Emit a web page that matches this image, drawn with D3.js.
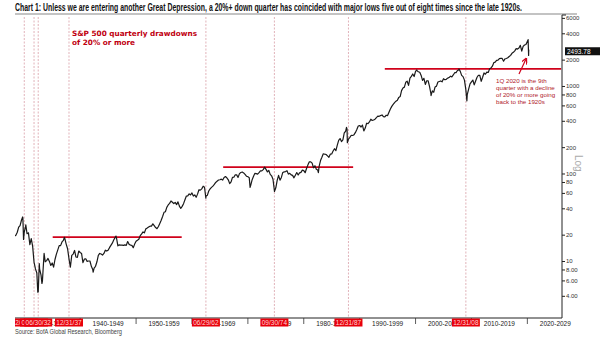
<!DOCTYPE html>
<html><head><meta charset="utf-8">
<script src="https://cdn.jsdelivr.net/npm/d3@7"></script>
<style>body{margin:0;background:#fff}svg{display:block}</style>
</head><body>
<svg id="c" width="605" height="341"></svg>
<script>
// ---------- DATA ----------
const startYear = 1928; // first quarter-end: Mar 1928
const quarterlyClose = [
  19.28,19.7,21.3,24.35, 25.4,29.2,31.3,21.45, 25.1,20.5,21.0,15.34, 18.0,14.8,9.7,8.12,
  7.3,4.43,8.1,6.89, 5.9,10.9,9.8,10.1, 10.7,9.9,8.9,9.5, 8.5,10.4,12.0,13.4,
  15.0,15.0,16.5,17.2, 18.1,15.6,13.8,10.6, 8.5,11.6,12.0,13.2, 11.1,11.0,13.0,12.5,
  12.2,9.6,10.5,10.6, 9.9,10.0,10.0,8.7, 8.0,8.3,8.7,9.8, 11.6,12.2,12.0,11.7,
  12.2,13.3,13.0,13.3, 14.2,15.1,16.0,17.4, 18.5,18.4,14.9,15.3, 15.2,15.2,15.1,15.3,
  15.1,16.7,15.5,15.2, 15.1,14.2,15.6,16.8, 17.3,17.7,19.5,20.4, 21.5,21.0,23.3,23.8,
  24.4,25.0,25.0,26.6, 25.3,24.1,23.4,24.8, 26.9,29.2,32.3,36.0, 36.6,41.0,43.7,45.5,
  48.5,47.0,45.4,46.7, 44.1,47.4,42.4,40.0, 42.1,45.2,50.1,55.2, 55.4,58.5,56.9,59.9,
  55.3,56.9,53.5,58.1, 65.1,64.6,66.7,71.6, 69.6,54.8,56.3,63.1, 66.6,69.4,71.7,75.0,
  79.0,81.7,84.2,84.8, 86.2,84.1,90.0,92.4, 89.2,84.7,76.6,80.3, 90.2,90.6,96.7,96.5,
  90.2,99.6,102.7,103.9, 101.5,97.7,93.1,92.1, 89.6,72.7,84.2,92.2, 100.3,99.7,98.3,102.1,
  107.2,107.1,110.6,118.1, 111.5,104.3,108.4,97.6, 94.0,86.0,63.5,68.6, 83.4,95.2,83.9,90.2,
  102.8,104.3,105.2,107.5, 98.4,100.5,96.5,95.1, 89.2,95.5,102.5,96.1, 101.6,102.9,109.3,107.9,
  102.1,114.2,125.5,135.8, 136.0,131.2,116.2,122.6, 112.0,109.6,120.4,140.6, 153.0,168.1,166.1,164.9,
  159.2,153.2,166.1,167.2, 180.7,191.9,182.1,211.3, 238.9,250.8,231.3,242.2, 291.7,304.0,321.8,247.1,
  258.9,273.5,271.9,277.7, 294.9,318.0,349.2,353.4, 339.9,358.0,306.1,330.2, 375.2,371.2,387.9,417.1,
  403.7,408.1,417.8,435.7, 451.7,450.5,458.9,466.4, 445.8,444.3,462.7,459.3, 500.7,544.8,584.4,615.9,
  645.5,670.6,687.3,740.7, 757.1,885.1,947.3,970.4, 1101.8,1133.8,1017.0,1229.2, 1286.4,1372.7,1282.7,1469.3,
  1498.6,1454.6,1436.5,1320.3, 1160.3,1224.4,1040.9,1148.1, 1147.4,989.8,815.3,879.8, 848.2,974.5,996.0,1111.9,
  1126.2,1140.8,1114.6,1211.9, 1180.6,1191.3,1228.8,1248.3, 1294.8,1270.2,1335.9,1418.3, 1420.9,1503.4,1526.8,1468.4,
  1322.7,1280.0,1166.4,903.3, 797.9,919.3,1057.1,1115.1, 1169.4,1030.7,1141.2,1257.6, 1325.8,1320.6,1131.4,1257.6,
  1408.5,1362.2,1440.7,1426.2, 1569.2,1606.3,1681.6,1848.4, 1872.3,1960.2,1972.3,2058.9, 2067.9,2063.1,1920.0,2043.9,
  2059.7,2098.9,2168.3,2238.8, 2362.7,2423.4,2519.4,2673.6, 2640.9,2718.4,2914.0,2506.9, 2834.4,2941.8,2976.7,3230.8,
  2584.6
];
// intra-quarter highs / lows
const extremeDates  = ["1929-09-16","1929-11-13","1930-04-10","1932-06-01","1932-09-07","1933-02-27","1933-07-18",
  "1937-03-06","1942-04-28","1946-05-29","1962-06-26","1970-05-26","1974-10-03","1982-08-12","1987-08-25",
  "1987-10-19","2000-03-24","2002-10-09","2007-10-09","2009-03-09","2020-02-19","2020-03-23","2020-04-01"];
const extremeValues = [31.86,17.66,25.92,4.40,9.31,5.53,12.2,18.68,7.47,19.25,52.3,69.3,62.3,102.4,336.8,
  224.8,1527.5,776.8,1565.2,676.5,3386.2,2237.4,2493.78];
const lastPrice = 2493.78;

const drawdownDates  = ["1929-12-31","1931-09-30","1932-06-30","1937-12-31","1962-06-29","1974-09-30","1987-12-31","2008-12-31"];
const drawdownLabels = ["12/31/29","09/30/31","06/30/32","12/31/37","06/29/62","09/30/74","12/31/87","12/31/08"];

const resistanceLevels = [18.7, 118, 1565];
const resistanceStart  = ["1935-02-01","1965-08-01","1994-07-01"];
const resistanceEnd    = ["1958-03-01","1988-11-01","2026-01-15"];

const decadeStarts = [1920,1930,1940,1950,1960,1970,1980,1990,2000,2010,2020];
const yTicks = [4,6,8,10,20,40,60,80,100,200,400,600,800,1000,2000,4000,6000];

const titleText = "Chart 1: Unless we are entering another Great Depression, a 20%+ down quarter has coincided with major lows five out of eight times since the late 1920s.";
const sourceText = "Source: BofA Global Research, Bloomberg";
const noteLeft = ["S&P 500 quarterly drawdowns","of 20% or more"];
const noteRight = ["1Q 2020 is the 9th","quarter with a decline","of 20% or more going","back to the 1920s"];

// ---------- BUILD ----------
const parse = d3.timeParse("%Y-%m-%d");
const series = quarterlyClose.map((v,i)=>({date:new Date(startYear+Math.floor(i/4),(i%4)*3+3,0),value:v}))
  .concat(extremeDates.map((d,i)=>({date:parse(d),value:extremeValues[i]})))
  .sort((a,b)=>a.date-b.date);

const svg = d3.select("#c");
const L = 15, R = 562, T = 15, B = 318;
const x = d3.scaleTime().domain([new Date(1928,0,1), new Date(2026,0,1)]).range([13.1, 560.9]);
const y = d3.scaleLog().domain([2.232, 6473]).range([B, T]);

const red = "#d0021b";
const defs = svg.append("defs");
defs.append("clipPath").attr("id","clip")
  .append("rect").attr("x",L).attr("y",0).attr("width",R-L).attr("height",341);
defs.append("clipPath").attr("id","clipB")
  .append("rect").attr("x",L).attr("y",0).attr("width",605-L).attr("height",341);

// title
svg.append("text").attr("x",15).attr("y",11).text(titleText)
  .attr("font-family","'Liberation Sans Narrow','Arial Narrow',sans-serif").attr("font-weight","bold")
  .attr("font-size",10.5).attr("fill","#111").attr("textLength",507).attr("lengthAdjust","spacingAndGlyphs");
svg.append("line").attr("x1",15).attr("x2",R+15).attr("y1",14).attr("y2",14).attr("stroke","#555").attr("stroke-width",0.7);

const g = svg.append("g").attr("clip-path","url(#clip)");

// vertical dashed drawdown lines
g.selectAll(".vl").data(drawdownDates).join("line")
  .attr("x1",d=>x(parse(d))).attr("x2",d=>x(parse(d)))
  .attr("y1",T+2).attr("y2",B)
  .attr("stroke","#d9a0a8").attr("stroke-width",0.8).attr("stroke-dasharray","2,1.5");

// red resistance lines
g.selectAll(".rl").data(resistanceLevels).join("line")
  .attr("x1",(d,i)=>x(parse(resistanceStart[i]))).attr("x2",(d,i)=>x(parse(resistanceEnd[i])))
  .attr("y1",d=>y(d)).attr("y2",d=>y(d))
  .attr("stroke",red).attr("stroke-width",1.8);

// price line
g.append("path").datum(series)
  .attr("d",d3.line().x(d=>x(d.date)).y(d=>y(d.value)))
  .attr("fill","none").attr("stroke","#1a1a1a").attr("stroke-width",1.2).attr("stroke-linejoin","round");

// right axis
const ax = svg.append("g").attr("transform",`translate(${R},0)`)
  .call(d3.axisRight(y).tickValues(yTicks).tickSize(3).tickSizeOuter(0)
    .tickFormat(d=>d<10?d3.format(".2f")(d):d3.format("d")(d)));
ax.select(".domain").attr("stroke","#222").attr("stroke-width",1).attr("d",`M0,${T}V${B}`);
ax.selectAll(".tick line").attr("stroke","#222");
ax.selectAll(".tick text").attr("x",4).attr("font-family","'Liberation Sans',Arial,sans-serif").attr("font-size",6).attr("fill","#333");
svg.append("line").attr("x1",R).attr("x2",R+4).attr("y1",T).attr("y2",T).attr("stroke","#222");

// bottom axis
svg.append("line").attr("x1",L).attr("x2",R).attr("y1",B).attr("y2",B).attr("stroke","#222").attr("stroke-width",1);
const bx = svg.append("g").attr("clip-path","url(#clipB)");
bx.selectAll(".dt").data(decadeStarts).join("line")
  .attr("x1",d=>x(new Date(d,0,1))).attr("x2",d=>x(new Date(d,0,1)))
  .attr("y1",B).attr("y2",B+6).attr("stroke","#333").attr("stroke-width",0.8);
bx.selectAll(".dl").data(decadeStarts).join("text")
  .attr("x",d=>x(new Date(d+5,0,1))).attr("y",B+7.5).attr("text-anchor","middle")
  .attr("font-family","'Liberation Sans',Arial,sans-serif").attr("font-size",6.5).attr("fill","#222")
  .text(d=>`${d}-${d+9}`);

// red date labels
const lab = bx.selectAll(".lab").data(drawdownDates).join("g")
  .attr("transform",d=>`translate(${x(parse(d))},${B+0.5})`);
lab.append("rect").attr("x",-14).attr("y",0).attr("width",28).attr("height",8).attr("fill","#e8000b");
lab.append("text").attr("x",0).attr("y",6.5).attr("text-anchor","middle")
  .attr("font-family","'Liberation Sans',Arial,sans-serif").attr("font-size",6.5).attr("fill","#ffd6d6")
  .text((d,i)=>drawdownLabels[i]);

// last price tag
const ly = y(lastPrice);
svg.append("rect").attr("x",R+3).attr("y",ly-4).attr("width",35).attr("height",8).attr("fill","#111");
svg.append("text").attr("x",R+5).attr("y",ly+2.3).text(d3.format(".2f")(lastPrice))
  .attr("font-family","'Liberation Sans',Arial,sans-serif").attr("font-size",6.5).attr("fill","#fff");

// Log label
svg.append("text").attr("transform","translate(575,155) rotate(90)").text("Log")
  .attr("font-family","'Liberation Sans',Arial,sans-serif").attr("font-size",10).attr("fill","#aaa");

// annotations
svg.selectAll(".nl").data(noteLeft).join("text")
  .attr("x",72).attr("y",(d,i)=>36+i*9).text(d=>d)
  .attr("font-family","'DejaVu Sans',Verdana,sans-serif").attr("font-weight","bold")
  .attr("font-size",7.3).attr("fill","#c00010");
svg.selectAll(".nr").data(noteRight).join("text")
  .attr("x",496).attr("y",(d,i)=>83+i*7).text(d=>d)
  .attr("font-family","'Liberation Sans',Arial,sans-serif")
  .attr("font-size",6.2).attr("fill","#b0202a");

// arrow
defs.append("marker").attr("id","ah").attr("viewBox","0 0 10 10").attr("refX",8).attr("refY",5)
  .attr("markerWidth",5).attr("markerHeight",5).attr("orient","auto")
  .append("path").attr("d","M0,0L10,5L0,10").attr("fill","none").attr("stroke",red).attr("stroke-width",2);
svg.append("line").attr("x1",519).attr("y1",74).attr("x2",526).attr("y2",59)
  .attr("stroke",red).attr("stroke-width",1.2).attr("marker-end","url(#ah)");

// source
svg.append("text").attr("x",15).attr("y",334).text(sourceText)
  .attr("font-family","'Liberation Sans Narrow','Arial Narrow',sans-serif").attr("font-size",7.5).attr("fill","#444")
  .attr("textLength",107).attr("lengthAdjust","spacingAndGlyphs");
</script>
</body></html>
